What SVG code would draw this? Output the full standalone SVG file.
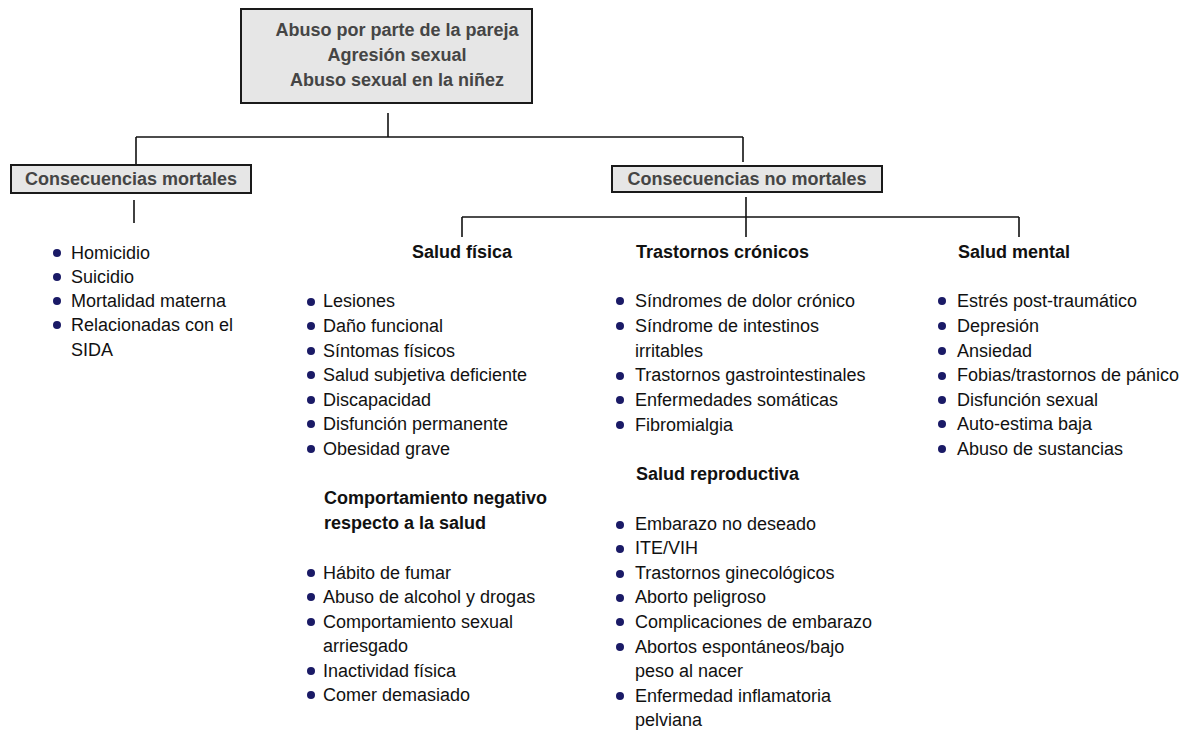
<svg xmlns="http://www.w3.org/2000/svg" width="1191" height="732" viewBox="0 0 1191 732">
<style>
.bg{fill:#ffffff}
.box{fill:#e6e6e6;stroke:#1a1a1a;stroke-width:2}
.bt{font-family:"Liberation Sans",Arial,sans-serif;font-size:18px;font-weight:bold;fill:#454545;text-anchor:middle}
.h{font-family:"Liberation Sans",Arial,sans-serif;font-size:18px;font-weight:bold;fill:#111}
.t{font-family:"Liberation Sans",Arial,sans-serif;font-size:18px;fill:#111}
.b{fill:#1a1a66}
.ln{stroke:#111;stroke-width:1.6;fill:none}
</style>
<rect class="bg" x="0" y="0" width="1191" height="732"/>

<g id="connectors">
<line class="ln" x1="388" y1="113" x2="388" y2="137"/>
<line class="ln" x1="136" y1="137" x2="743" y2="137"/>
<line class="ln" x1="136" y1="137" x2="136" y2="165"/>
<line class="ln" x1="743" y1="137" x2="743" y2="162"/>
<line class="ln" x1="134" y1="200" x2="134" y2="223"/>
<line class="ln" x1="746" y1="197" x2="746" y2="237"/>
<line class="ln" x1="462" y1="217" x2="1019" y2="217"/>
<line class="ln" x1="462" y1="217" x2="462" y2="237"/>
<line class="ln" x1="1019" y1="217" x2="1019" y2="237"/>
</g>

<g id="top">
<rect class="box" x="241" y="9" width="291" height="94"/>
<text class="bt" x="397" y="36">Abuso por parte de la pareja</text>
<text class="bt" x="397" y="61">Agresión sexual</text>
<text class="bt" x="397" y="86">Abuso sexual en la niñez</text>
</g>

<g id="mortales">
<rect class="box" x="11" y="165" width="240" height="28"/>
<text class="bt" x="131" y="185">Consecuencias mortales</text>
</g>

<g id="nomortales">
<rect class="box" x="612" y="166" width="270" height="26"/>
<text class="bt" x="747" y="185">Consecuencias no mortales</text>
</g>

<g id="lista-mortales">
<circle class="b" cx="57" cy="253" r="4"/><text class="t" x="71" y="259">Homicidio</text>
<circle class="b" cx="57" cy="277" r="4"/><text class="t" x="71" y="283">Suicidio</text>
<circle class="b" cx="57" cy="301" r="4"/><text class="t" x="71" y="307">Mortalidad materna</text>
<circle class="b" cx="57" cy="325" r="4"/><text class="t" x="71" y="331">Relacionadas con el</text>
<text class="t" x="71" y="356">SIDA</text>
</g>

<g id="salud-fisica">
<text class="h" x="412" y="258">Salud física</text>
<circle class="b" cx="311" cy="302" r="4"/><text class="t" x="323" y="307">Lesiones</text>
<circle class="b" cx="311" cy="326" r="4"/><text class="t" x="323" y="332">Daño funcional</text>
<circle class="b" cx="311" cy="351" r="4"/><text class="t" x="323" y="357">Síntomas físicos</text>
<circle class="b" cx="311" cy="375" r="4"/><text class="t" x="323" y="381">Salud subjetiva deficiente</text>
<circle class="b" cx="311" cy="400" r="4"/><text class="t" x="323" y="406">Discapacidad</text>
<circle class="b" cx="311" cy="424" r="4"/><text class="t" x="323" y="430">Disfunción permanente</text>
<circle class="b" cx="311" cy="449" r="4"/><text class="t" x="323" y="455">Obesidad grave</text>
</g>

<g id="comportamiento">
<text class="h" x="324" y="504">Comportamiento negativo</text>
<text class="h" x="324" y="529">respecto a la salud</text>
<circle class="b" cx="311" cy="573" r="4"/><text class="t" x="323" y="579">Hábito de fumar</text>
<circle class="b" cx="311" cy="597" r="4"/><text class="t" x="323" y="603">Abuso de alcohol y drogas</text>
<circle class="b" cx="311" cy="622" r="4"/><text class="t" x="323" y="628">Comportamiento sexual</text>
<text class="t" x="323" y="652">arriesgado</text>
<circle class="b" cx="311" cy="671" r="4"/><text class="t" x="323" y="677">Inactividad física</text>
<circle class="b" cx="311" cy="695" r="4"/><text class="t" x="323" y="701">Comer demasiado</text>
</g>

<g id="trastornos-cronicos">
<text class="h" x="636" y="258">Trastornos crónicos</text>
<circle class="b" cx="620" cy="301" r="4"/><text class="t" x="635" y="307">Síndromes de dolor crónico</text>
<circle class="b" cx="620" cy="326" r="4"/><text class="t" x="635" y="332">Síndrome de intestinos</text>
<text class="t" x="635" y="357">irritables</text>
<circle class="b" cx="620" cy="376" r="4"/><text class="t" x="635" y="381">Trastornos gastrointestinales</text>
<circle class="b" cx="620" cy="400" r="4"/><text class="t" x="635" y="406">Enfermedades somáticas</text>
<circle class="b" cx="620" cy="425" r="4"/><text class="t" x="635" y="431">Fibromialgia</text>
</g>

<g id="salud-reproductiva">
<text class="h" x="636" y="480">Salud reproductiva</text>
<circle class="b" cx="620" cy="525" r="4"/><text class="t" x="635" y="530">Embarazo no deseado</text>
<circle class="b" cx="620" cy="549" r="4"/><text class="t" x="635" y="554">ITE/VIH</text>
<circle class="b" cx="620" cy="574" r="4"/><text class="t" x="635" y="579">Trastornos ginecológicos</text>
<circle class="b" cx="620" cy="598" r="4"/><text class="t" x="635" y="603">Aborto peligroso</text>
<circle class="b" cx="620" cy="622" r="4"/><text class="t" x="635" y="628">Complicaciones de embarazo</text>
<circle class="b" cx="620" cy="647" r="4"/><text class="t" x="635" y="653">Abortos espontáneos/bajo</text>
<text class="t" x="635" y="677">peso al nacer</text>
<circle class="b" cx="620" cy="696" r="4"/><text class="t" x="635" y="702">Enfermedad inflamatoria</text>
<text class="t" x="635" y="726">pelviana</text>
</g>

<g id="salud-mental">
<text class="h" x="958" y="258">Salud mental</text>
<circle class="b" cx="942" cy="301" r="4"/><text class="t" x="957" y="307">Estrés post-traumático</text>
<circle class="b" cx="942" cy="326" r="4"/><text class="t" x="957" y="332">Depresión</text>
<circle class="b" cx="942" cy="351" r="4"/><text class="t" x="957" y="357">Ansiedad</text>
<circle class="b" cx="942" cy="376" r="4"/><text class="t" x="957" y="381">Fobias/trastornos de pánico</text>
<circle class="b" cx="942" cy="400" r="4"/><text class="t" x="957" y="406">Disfunción sexual</text>
<circle class="b" cx="942" cy="424" r="4"/><text class="t" x="957" y="430">Auto-estima baja</text>
<circle class="b" cx="942" cy="449" r="4"/><text class="t" x="957" y="455">Abuso de sustancias</text>
</g>
</svg>
